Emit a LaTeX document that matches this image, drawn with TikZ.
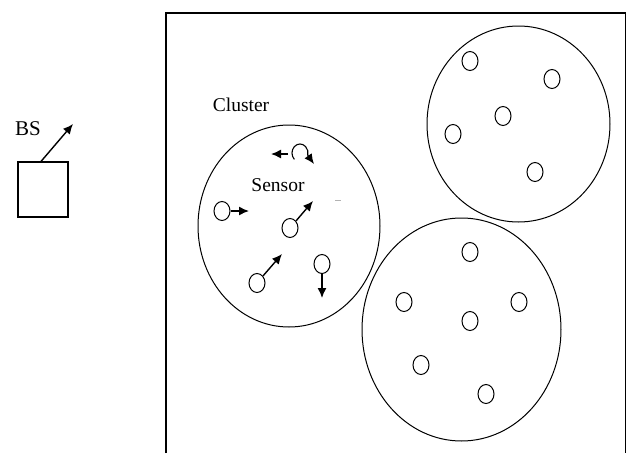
\documentclass[tikz,border=0pt]{standalone}
\usepackage{fontspec}
\setmainfont{Liberation Serif}
\usetikzlibrary{arrows.meta,shapes.geometric}
\begin{document}
\begin{tikzpicture}[x=1pt,y=-1pt,
  sensor/.style={draw,ellipse,line width=1pt,minimum width=16pt,minimum height=19pt,inner sep=0pt},
  cluster/.style={draw,ellipse,line width=1pt,inner sep=0pt},
  move/.style={line width=1.4pt,-{Latex[length=10pt,width=9pt]}},
  lbl/.style={font=\fontsize{19.5}{22}\selectfont,inner sep=0pt}]
\useasboundingbox (0,0) rectangle (627,453);
% field
\draw[line width=1.5pt] (166,453) -- (166,13) -- (625.5,13) -- (625.5,453);
% base station
\node[draw,line width=1.1pt,minimum width=50pt,minimum height=55pt,inner sep=0pt] (bs) at (43,189.5) {};
\node[lbl,font=\fontsize{21}{24}\selectfont] (bslbl) at (28,129) {BS};
\coordinate (bsend) at (73,124);
\draw[move] (bs.north) ++(-2,0) -- (bsend);
% clusters
\node[cluster,minimum width=182pt,minimum height=202pt] (c1) at (289,226) {};
\node[cluster,minimum width=183pt,minimum height=196pt] (c2) at (518.5,124) {};
\node[cluster,minimum width=199pt,minimum height=223pt] (c3) at (461.5,329.5) {};
\node[lbl] (clbl) at (241,105) {Cluster};
\node[lbl] (slbl) at (278,185) {Sensor};
% cluster 1 sensors
\node[sensor] (a1) at (222,211) {};
\coordinate (a1e) at (249,211);
\draw[move] (a1.east) -- (a1e);
\coordinate (a2l1) at (288,154);
\coordinate (a2l2) at (271,154);
\draw[move] (a2l1) -- (a2l2);
\coordinate (a2c) at (300,153);
\coordinate (a2e) at (314,164);
\draw[line width=1.1pt] ([shift={(135:8 and 9)}]a2c) arc[start angle=135,end angle=375,x radius=8,y radius=9] coordinate (a2m);
\draw[move] (a2m) -- (a2e);
\node[sensor] (a3) at (290,228) {};
\coordinate (a3e) at (313,201);
\draw[move] (a3.north east) -- (a3e);
\node[sensor] (a4) at (257,283) {};
\coordinate (a4e) at (282,254);
\draw[move] (a4.north east) -- (a4e);
\node[sensor] (a5) at (322,264) {};
\coordinate (a5e) at (322,298);
\draw[move] (a5.south) -- (a5e);
\coordinate (d1) at (335,200);
\coordinate (d2) at (341,200);
\draw[gray!60,line width=0.8pt] (d1) -- (d2);
% cluster 2 sensors
\node[sensor] (b1) at (470,61) {};
\node[sensor] (b2) at (552,79) {};
\node[sensor] (b3) at (503,116) {};
\node[sensor] (b4) at (453,134) {};
\node[sensor] (b5) at (535,172) {};
% cluster 3 sensors
\node[sensor] (e1) at (470,252) {};
\node[sensor] (e2) at (404,302) {};
\node[sensor] (e3) at (519,302) {};
\node[sensor] (e4) at (470,321) {};
\node[sensor] (e5) at (421,365) {};
\node[sensor] (e6) at (486,394) {};
\end{tikzpicture}
\end{document}
